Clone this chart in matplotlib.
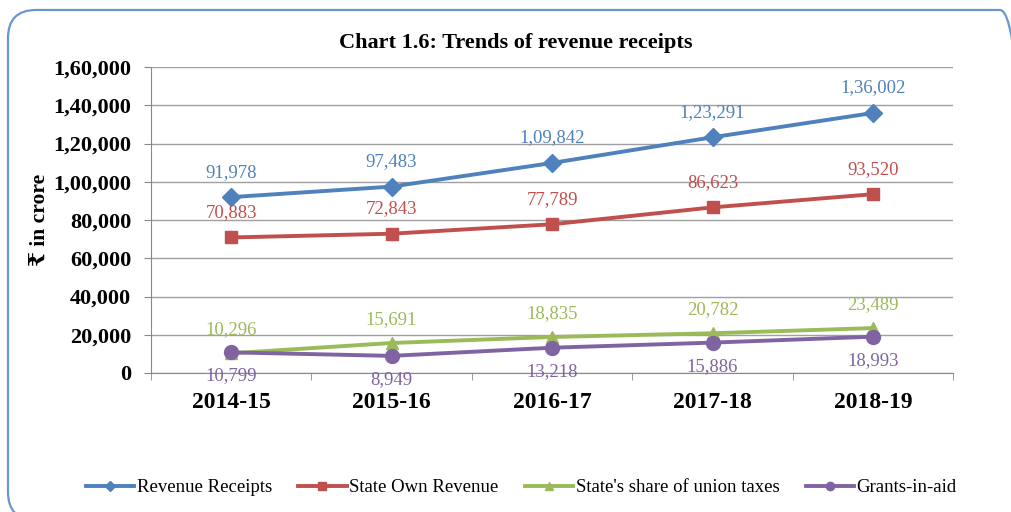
import matplotlib.pyplot as plt
from matplotlib.patches import FancyBboxPatch
from matplotlib.ticker import FuncFormatter

years = ["2014-15", "2015-16", "2016-17", "2017-18", "2018-19"]
revenue_receipts = [91978, 97483, 109842, 123291, 136002]
state_own_revenue = [70883, 72843, 77789, 86623, 93520]
union_tax_share = [10296, 15691, 18835, 20782, 23489]
grants_in_aid = [10799, 8949, 13218, 15886, 18993]


def indian(v):
    # Indian digit grouping: 1,36,002
    s = str(int(round(v)))
    if len(s) <= 3:
        return s
    head, tail = s[:-3], s[-3:]
    parts = []
    while len(head) > 2:
        parts.insert(0, head[-2:])
        head = head[:-2]
    if head:
        parts.insert(0, head)
    return ",".join(parts) + "," + tail


plt.rcParams["font.family"] = ["Liberation Serif", "DejaVu Serif", "DejaVu Sans"]

fig = plt.figure(figsize=(10.12, 5.12), dpi=100)
ax = fig.add_axes([0.149, 0.2715, 0.793, 0.5975])

# rounded frame round the chart (runs off the right and bottom edges)
frame = FancyBboxPatch((0.08, -0.08), 10.2, 5.10, boxstyle="round,pad=0,rounding_size=0.28",
                       transform=fig.dpi_scale_trans, fill=False, edgecolor="#6a97cf",
                       linewidth=1.6)
fig.add_artist(frame)

x = list(range(len(years)))
series = [
    ("Revenue Receipts", revenue_receipts, "#4f81bd", "D", 9, 18),
    ("State Own Revenue", state_own_revenue, "#c0504d", "s", 9, 18),
    ("State's share of union taxes", union_tax_share, "#9bbb59", "^", 9, 17),
    ("Grants-in-aid", grants_in_aid, "#8064a2", "o", 10, -17),
]
for name, vals, col, mk, ms, off in series:
    ax.plot(x, vals, color=col, marker=mk, markersize=ms, linewidth=2.8, label=name)
    for xi, v in zip(x, vals):
        ax.annotate(indian(v), (xi, v), xytext=(0, off), textcoords="offset points",
                    ha="center", va="center", color=col, fontsize=13.5)

ax.set_xlim(-0.5, 4.5)
ax.set_ylim(0, 160000)
ax.set_yticks(range(0, 160001, 20000))
ax.yaxis.set_major_formatter(FuncFormatter(lambda v, p: indian(v)))
ax.set_xticks(x)
ax.set_xticklabels(years, fontsize=17, fontweight="bold")
ax.set_xticks([i - 0.5 for i in range(6)], minor=True)
ax.tick_params(axis="x", which="major", length=0, pad=14)
ax.tick_params(axis="x", which="minor", length=5, color="#888888")
ax.tick_params(axis="y", labelsize=16, length=5, color="#888888", pad=9)
for lab in ax.get_yticklabels():
    lab.set_fontweight("bold")
ax.grid(axis="y", color="#a0a0a0", linewidth=1)
ax.set_axisbelow(True)
for s in ["top", "right"]:
    ax.spines[s].set_visible(False)
ax.spines["left"].set_color("#888888")
ax.spines["bottom"].set_color("#888888")

ax.set_ylabel("₹ in crore", fontsize=15.5, fontweight="bold")
ax.yaxis.set_label_coords(-0.126, 0.5)
fig.text(0.51, 0.916, "Chart 1.6: Trends of revenue receipts", ha="center", va="center",
         fontsize=16, fontweight="bold")

fig.legend(loc="center", bbox_to_anchor=(0.515, 0.047), ncol=4, frameon=False, fontsize=13.5,
           handlelength=2.6, handletextpad=0.12, columnspacing=1.4, markerscale=0.6)

fig.savefig("out.png", dpi=100)
